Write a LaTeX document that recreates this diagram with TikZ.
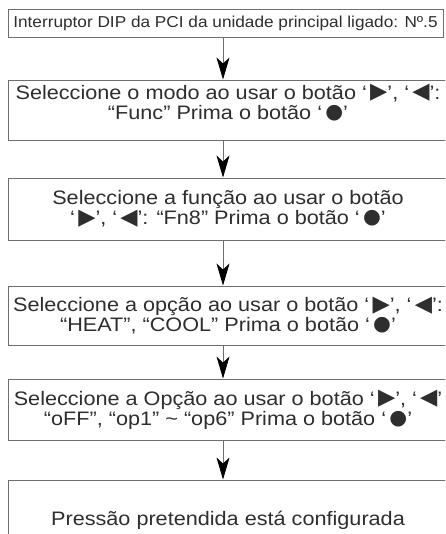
\documentclass[tikz,border=0pt]{standalone}
\usepackage{fontspec}
\setmainfont{Liberation Sans}
\newfontfamily\stepfont[FakeStretch=1.11]{Liberation Sans}
\newfontfamily\topfont[FakeStretch=1.09]{Liberation Sans}
\newfontfamily\symfont{DejaVu Sans}
\usepackage{tikz}
\usetikzlibrary{positioning,arrows.meta}
\definecolor{frame}{HTML}{6E6E6E}
\definecolor{ink}{HTML}{2E2E2E}
\newcommand{\keyright}{‘\,{\symfont\raisebox{0.8pt}{\scalebox{1.15}{▶}}}’}
\newcommand{\keyleft}{‘\,{\symfont\raisebox{0.8pt}{\scalebox{1.15}{◀}}}’}
\newcommand{\keyset}{‘\,{\symfont\raisebox{1pt}{\scalebox{1.05}{●}}}’}

\begin{document}
\begin{tikzpicture}[
  x=1pt, y=-1pt,
  every node/.style={text=ink},
  stepbox/.style={
    draw=frame, line width=0.9pt, align=center, inner sep=0pt,
    minimum width=440pt, minimum height=60pt,
    font=\stepfont\fontsize{19.5}{20}\selectfont,
  },
  topbox/.style={
    stepbox, minimum width=435pt, minimum height=28pt,
    font=\topfont\fontsize{15.8}{17}\selectfont,
  },
  arrow/.style={draw=frame, line width=0.8pt,
    -{Stealth[length=22pt, width=13pt, inset=6pt, color=black]}},
]
  \useasboundingbox (0,0) rectangle (445,534);
  \clip (0,0) rectangle (445,534);

  \coordinate (axis) at (223,0);

  \node[topbox] (s1) at (225.5,23) {Interruptor DIP da PCI da unidade principal ligado: Nº.5};
  \node[stepbox, text depth=16pt] (s2) at (228,110) {Seleccione o modo ao usar o botão \keyright, \keyleft:\\“Func” Prima o botão \keyset};
  \node[stepbox, minimum height=62pt] (s3) at (228,209) {Seleccione a função ao usar o botão\\\keyright, \keyleft: “Fn8” Prima o botão \keyset};
  \node[stepbox, minimum height=59pt] (s4) at (228,315.5) {Seleccione a opção ao usar o botão \keyright, \keyleft:\\“HEAT”, “COOL” Prima o botão \keyset};
  \node[stepbox, minimum height=61pt] (s5) at (228,409.5) {Seleccione a Opção ao usar o botão \keyright, \keyleft\\“oFF”, “op1” \textasciitilde{} “op6” Prima o botão \keyset};
  \node[stepbox, minimum height=80pt] (s6) at (228,520) {Pressão pretendida está configurada};

  \draw[arrow] (s1.south -| axis) -- (s2.north -| axis);
  \draw[arrow] (s2.south -| axis) -- (s3.north -| axis);
  \draw[arrow] (s3.south -| axis) -- (s4.north -| axis);
  \draw[arrow] (s4.south -| axis) -- (s5.north -| axis);
  \draw[arrow] (s5.south -| axis) -- (s6.north -| axis);
\end{tikzpicture}
\end{document}
